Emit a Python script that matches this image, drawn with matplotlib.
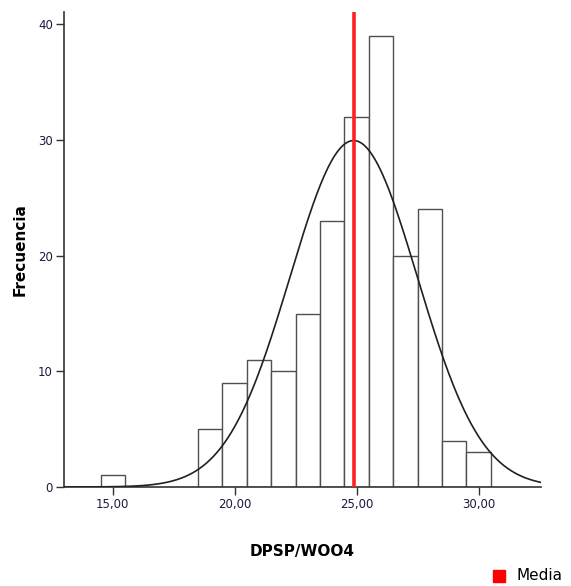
import numpy as np
import matplotlib.pyplot as plt
from matplotlib.ticker import FuncFormatter

# histogram data (bin width 1, centers)
bin_centers = [15, 19, 20, 21, 22, 23, 24, 25, 26, 27, 28, 29, 30]
counts = [1, 5, 9, 11, 10, 15, 23, 32, 39, 20, 24, 4, 3]
x_ticks = [15, 20, 25, 30]
y_ticks = [0, 10, 20, 30, 40]

# fitted normal curve parameters
media = 24.88
desv = 2.61
n_total = sum(counts)

fig = plt.figure(figsize=(5.71, 5.86), dpi=100)
ax = fig.add_axes([0.112, 0.169, 0.835, 0.811])

ax.bar(bin_centers, counts, width=1.0, facecolor='white',
       edgecolor='#505050', linewidth=1.0, zorder=2)

xs = np.linspace(13, 32.6, 400)
ys = n_total * 1.0 / (desv * np.sqrt(2 * np.pi)) * np.exp(-0.5 * ((xs - media) / desv) ** 2)
ax.plot(xs, ys, color='#202020', linewidth=1.2, zorder=3)

ax.axvline(media, color='#ff2020', linewidth=2.6, zorder=4)

ax.set_xlim(13.0, 32.55)
ax.set_ylim(0, 41.1)
ax.set_xticks(x_ticks)
ax.set_yticks(y_ticks)
ax.xaxis.set_major_formatter(FuncFormatter(lambda v, p: f"{v:.2f}".replace('.', ',')))

for s in ['top', 'right']:
    ax.spines[s].set_visible(False)
for s in ['left', 'bottom']:
    ax.spines[s].set_color('#333333')
    ax.spines[s].set_linewidth(1.2)

ax.tick_params(axis='both', direction='out', length=6, width=1.0,
               color='#333333', labelsize=8.5, labelcolor='#1a1a40', pad=2)

ax.set_xlabel("DPSP/WOO4", fontsize=11, fontweight='bold')
ax.set_ylabel("Frecuencia", fontsize=11, fontweight='bold')
ax.xaxis.set_label_coords(0.5, -0.135)
ax.yaxis.set_label_coords(-0.092, 0.5)
ax.xaxis.label.set_va('center')
ax.yaxis.label.set_va('center')

# legend in the bottom-right corner
fig.patches.append(plt.Rectangle((493 / 571, 1 - 582 / 586), 12 / 571, 12 / 586,
                                 transform=fig.transFigure, color='#ff0000'))
fig.text(516 / 571, 1 - 576 / 586, "Media", fontsize=11, va='center', ha='left')

fig.savefig("out.png", dpi=100)
